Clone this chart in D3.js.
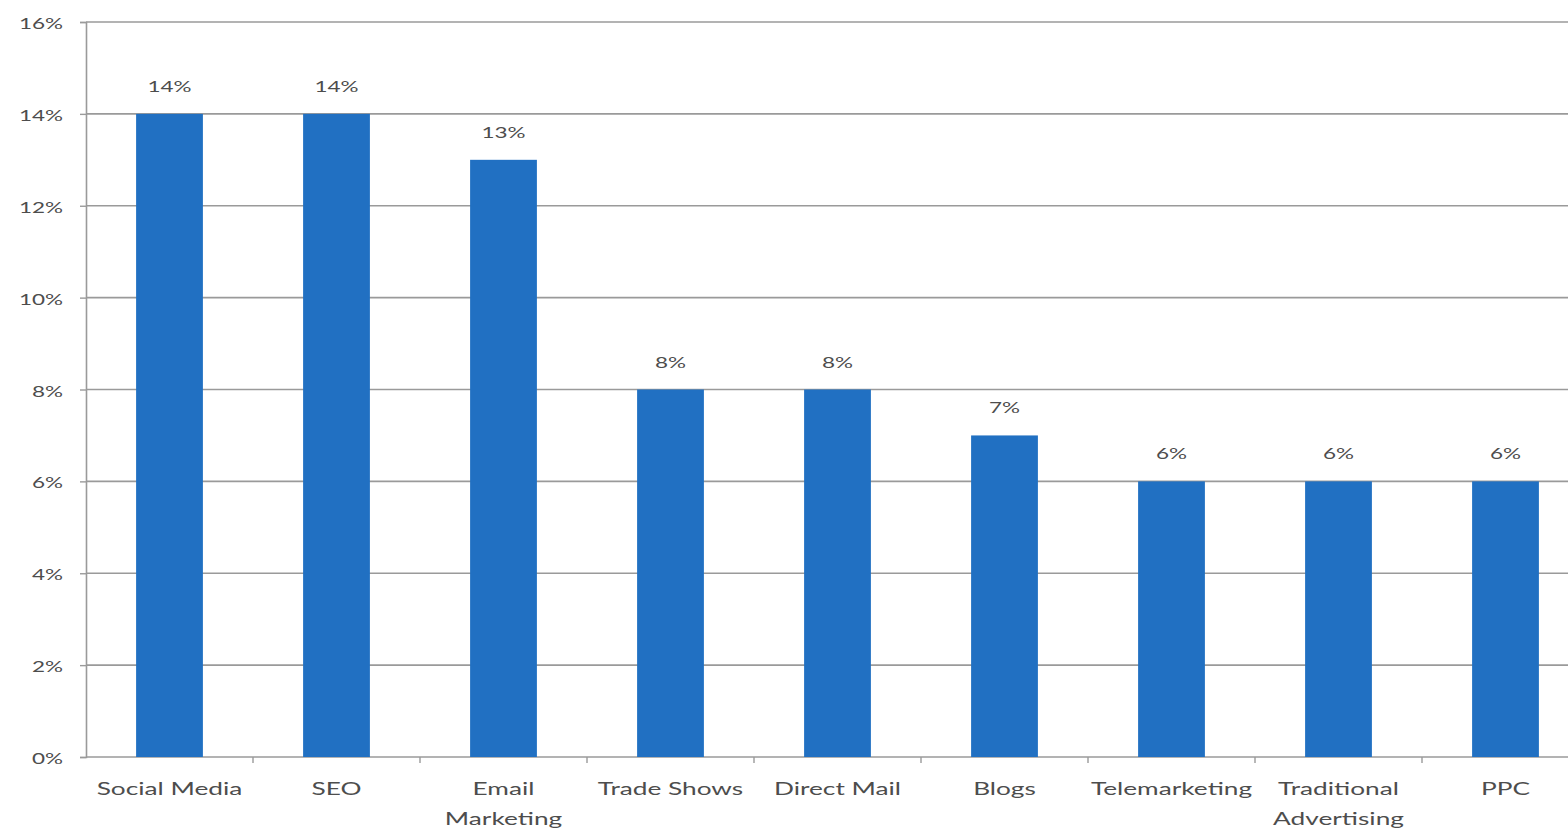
<!DOCTYPE html>
<html><head><meta charset="utf-8">
<script src="https://cdn.jsdelivr.net/npm/d3@7"></script>
<style>body{margin:0;background:#fff;overflow:hidden}svg{display:block}text{font-family:Lato,"Open Sans",sans-serif}</style>
</head><body><svg id="c" width="1568" height="832"></svg>
<script>
const categories = ["Social Media","SEO","Email Marketing","Trade Shows","Direct Mail","Blogs","Telemarketing","Traditional Advertising","PPC"];
const labelLines = [["Social Media"],["SEO"],["Email","Marketing"],["Trade Shows"],["Direct Mail"],["Blogs"],["Telemarketing"],["Traditional","Advertising"],["PPC"]];
const values = [14,14,13,8,8,7,6,6,6];
const yTicks = [0,2,4,6,8,10,12,14,16];

(function(){
const svg = d3.select("#c");
const mLeft = 86, mRight = 86 + 9*167, mTop = 22, mBottom = 757;
const x = d3.scaleBand().domain(categories).range([mLeft, mRight]).paddingInner(0.6).paddingOuter(0.3);
const y = d3.scaleLinear().domain([0,16]).range([mBottom, mTop]);
const textCol = "#4d4d4d", lineCol = "#9a9a9a";
const SX = 1.5;

// gridlines
svg.append("g").selectAll("line").data(yTicks.filter(t=>t>0)).join("line")
  .attr("x1", mLeft).attr("x2", 1568).attr("y1", d=>y(d)).attr("y2", d=>y(d))
  .attr("stroke", lineCol).attr("stroke-width", 1.6);

// y axis
const ya = svg.append("g").attr("transform", `translate(${mLeft},0)`)
  .call(d3.axisLeft(y).tickValues(yTicks).tickFormat("").tickSize(6));
ya.select(".domain").attr("stroke", lineCol).attr("stroke-width", 1.6);
ya.selectAll(".tick line").attr("stroke", lineCol).attr("stroke-width", 1.4);
ya.selectAll(".tick text").remove();
svg.append("g").selectAll("text").data(yTicks).join("text")
  .attr("transform", d=>`translate(63,${y(d)+7}) scale(${SX},1)`)
  .attr("text-anchor", "end").attr("fill", textCol).attr("font-size", 15)
  .text(d=>d+"%");

// x axis line + between-category ticks
const step = x.step();
svg.append("line").attr("x1", mLeft).attr("x2", 1568).attr("y1", mBottom).attr("y2", mBottom)
  .attr("stroke", lineCol).attr("stroke-width", 1.6);
const bounds = d3.range(1, categories.length).map(i => mLeft + i*step);
svg.append("g").selectAll("line").data(bounds).join("line")
  .attr("x1", d=>d).attr("x2", d=>d).attr("y1", mBottom).attr("y2", mBottom+6)
  .attr("stroke", lineCol).attr("stroke-width", 1.4);

// bars
svg.append("g").selectAll("rect").data(values).join("rect")
  .attr("x", (d,i)=>x(categories[i])).attr("width", x.bandwidth())
  .attr("y", d=>y(d)).attr("height", d=>mBottom - y(d))
  .attr("fill", "#2170c2");

// value labels
svg.append("g").selectAll("text").data(values).join("text")
  .attr("transform", (d,i)=>`translate(${x(categories[i]) + x.bandwidth()/2},${y(d) - 22}) scale(${SX},1)`)
  .attr("text-anchor", "middle").attr("fill", textCol).attr("font-size", 15)
  .text(d=>d+"%");

// category labels
const cl = svg.append("g").selectAll("text").data(labelLines).join("text")
  .attr("transform", (d,i)=>`translate(${x(categories[i]) + x.bandwidth()/2},795) scale(${SX},1)`)
  .attr("text-anchor", "middle").attr("fill", textCol).attr("font-size", 17.5);
cl.selectAll("tspan").data(d=>d).join("tspan")
  .attr("x", 0).attr("dy", (d,i)=> i===0 ? 0 : 30).text(d=>d);
})();
</script></body></html>
